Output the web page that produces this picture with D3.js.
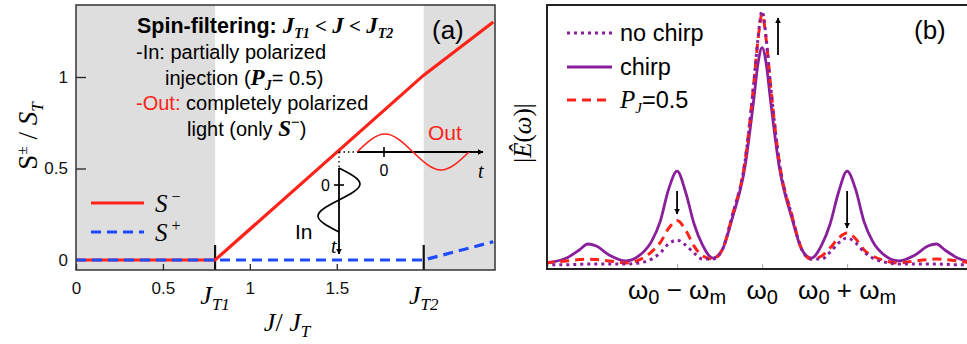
<!DOCTYPE html>
<html>
<head>
<meta charset="utf-8">
<script src="https://cdn.jsdelivr.net/npm/d3@7"></script>
<style>
  body { margin: 0; background: #fff; }
  svg { display: block; }
  .sans { font-family: "Liberation Sans", Arial, sans-serif; }
  .serif { font-family: "Liberation Serif", "Times New Roman", serif; }
</style>
</head>
<body>
<svg id="chart" width="967" height="344"></svg>
<script>
// ---- panel (a) data ----
const jVals = [0, 0.8, 2.0, 2.4]
const sMinus = [0, 0, 1.01, 1.3]
const sPlus = [0, 0, 0, 0.1]
const xTicksA = [0, 0.5, 1, 1.5]
const yTicksA = [0, 0.5, 1]
const jT1 = 0.8
const jT2 = 2.0

// inset waves (one period)
const wavePhase = [0, 0.25, 0.5, 0.75, 1]
const waveOut = [0, 1, 0, -1, 0]
const waveIn = [0, 1, 0, -1, 0]

// ---- panel (b) data: offset from w0 in units of wm ----
const omega = [-2.55, -2.3, -2.15, -2.05, -1.95, -1.8, -1.6, -1.45, -1.3, -1.2, -1.1, -1.0, -0.9, -0.8, -0.7, -0.58, -0.47, -0.35, -0.2, -0.1, -0.05, 0,
  0.05, 0.1, 0.2, 0.35, 0.47, 0.58, 0.7, 0.8, 0.9, 1.0, 1.1, 1.2, 1.3, 1.45, 1.6, 1.8, 1.95, 2.05, 2.15, 2.3, 2.45]
const chirp = [0.027, 0.046, 0.077, 0.10, 0.092, 0.058, 0.035, 0.054, 0.11, 0.185, 0.31, 0.38, 0.30, 0.177, 0.096, 0.046, 0.077, 0.20, 0.40, 0.65, 0.79, 0.855,
  0.79, 0.65, 0.40, 0.20, 0.077, 0.046, 0.096, 0.177, 0.30, 0.38, 0.31, 0.185, 0.11, 0.054, 0.035, 0.058, 0.092, 0.10, 0.077, 0.046, 0.03]
const noChirp = [0.02, 0.02, 0.022, 0.023, 0.023, 0.023, 0.023, 0.027, 0.042, 0.065, 0.10, 0.115, 0.096, 0.065, 0.042, 0.042, 0.077, 0.21, 0.42, 0.71, 0.885, 0.996,
  0.885, 0.71, 0.42, 0.21, 0.077, 0.042, 0.042, 0.069, 0.104, 0.123, 0.104, 0.069, 0.046, 0.03, 0.023, 0.023, 0.023, 0.023, 0.022, 0.02, 0.02]
const pJ05 = [0.027, 0.035, 0.04, 0.042, 0.04, 0.035, 0.027, 0.038, 0.07, 0.104, 0.16, 0.19, 0.154, 0.092, 0.054, 0.042, 0.077, 0.21, 0.42, 0.71, 0.88, 0.985,
  0.88, 0.71, 0.42, 0.21, 0.077, 0.042, 0.054, 0.085, 0.123, 0.142, 0.12, 0.077, 0.054, 0.035, 0.027, 0.035, 0.04, 0.042, 0.04, 0.035, 0.027]
const xTicksB = [-1, 0, 1]

const red = '#ff2218'
const blue = '#1f4bff'
const purple = '#8a1f9c'

const svg = d3.select('#chart')

svg.append('defs').append('marker')
  .attr('id', 'arrow')
  .attr('viewBox', '0 0 10 10')
  .attr('refX', 9).attr('refY', 5)
  .attr('markerWidth', 6).attr('markerHeight', 6)
  .attr('markerUnits', 'userSpaceOnUse')
  .attr('orient', 'auto')
  .append('path').attr('d', 'M0,0 L10,5 L0,10 Z').attr('fill', '#000')

// helper: text with sub/superscript parts [{t, it, cls, size, dy, fill, w}]
function richText(g, x, y, parts, opts = {}) {
  const t = g.append('text').attr('x', x).attr('y', y)
    .attr('font-size', opts.size || 18)
    .attr('fill', opts.fill || '#000')
    .attr('text-anchor', opts.anchor || 'start')
    .attr('class', opts.cls || 'sans')
  if (opts.weight) t.attr('font-weight', opts.weight)
  parts.forEach(p => {
    const s = t.append('tspan').text(p.t)
    if (p.cls) s.attr('class', p.cls)
    if (p.it) s.attr('font-style', 'italic')
    if (p.fill) s.attr('fill', p.fill)
    if (p.size) s.attr('font-size', p.size)
    if (p.dy) s.attr('dy', p.dy)
    if (p.w) s.attr('font-weight', p.w)
  })
  return t
}

// ================= panel (a) =================
const xA = d3.scaleLinear().domain([0, 2.41]).range([76, 495])
const yA = d3.scaleLinear().domain([0, 1]).range([260, 77])
const topA = 5, botA = 270

const ga = svg.append('g')

// shaded regimes
ga.append('rect').attr('x', xA(0)).attr('y', topA)
  .attr('width', xA(jT1) - xA(0)).attr('height', botA - topA).attr('fill', '#dedede')
ga.append('rect').attr('x', xA(jT2)).attr('y', topA)
  .attr('width', xA(2.41) - xA(jT2)).attr('height', botA - topA).attr('fill', '#dedede')

// axes
const axA = ga.append('g').attr('transform', `translate(0,${botA})`)
  .call(d3.axisBottom(xA).tickValues(xTicksA).tickFormat(d3.format('')).tickSizeInner(-6).tickSizeOuter(0).tickPadding(12))
axA.select('.domain').remove()
axA.selectAll('text').attr('font-size', 17).attr('class', 'sans').attr('fill', '#111')
axA.selectAll('line').attr('stroke', '#222').attr('stroke-width', 1.3)

const ayA = ga.append('g').attr('transform', `translate(${xA(0)},0)`)
  .call(d3.axisLeft(yA).tickValues(yTicksA).tickFormat(d3.format('')).tickSizeInner(-10).tickSizeOuter(0).tickPadding(8))
ayA.select('.domain').remove()
ayA.selectAll('text').attr('font-size', 17).attr('class', 'sans').attr('fill', '#111')
ayA.selectAll('line').attr('stroke', '#222').attr('stroke-width', 1.3)

// threshold markers
;[jT1, jT2].forEach(j => {
  ga.append('line').attr('x1', xA(j)).attr('x2', xA(j))
    .attr('y1', botA - 25).attr('y2', botA)
    .attr('stroke', '#111').attr('stroke-width', 2.2)
})
;[[jT1, 'T1'], [jT2, 'T2']].forEach(([j, s]) => {
  richText(ga, xA(j), 304, [{ t: 'J', it: true }, { t: s, it: true, size: 17, dy: 6 }],
    { size: 26, cls: 'serif', anchor: 'middle' })
})

// curves
const lineA = d3.line().x(d => xA(d[0])).y(d => yA(d[1]))
ga.append('path').datum(jVals.map((j, i) => [j, sMinus[i]]))
  .attr('d', lineA).attr('fill', 'none').attr('stroke', red).attr('stroke-width', 3.2)
ga.append('path').datum(jVals.map((j, i) => [j, sPlus[i]]))
  .attr('d', lineA).attr('fill', 'none').attr('stroke', blue).attr('stroke-width', 3.2)
  .attr('stroke-dasharray', '10,6')

// frame
ga.append('rect').attr('x', xA(0)).attr('y', topA)
  .attr('width', 495 - xA(0)).attr('height', botA - topA)
  .attr('fill', 'none').attr('stroke', '#333').attr('stroke-width', 1.5)

// legend
ga.append('line').attr('x1', 91).attr('x2', 144).attr('y1', 203).attr('y2', 203)
  .attr('stroke', red).attr('stroke-width', 3.2)
ga.append('line').attr('x1', 91).attr('x2', 144).attr('y1', 232).attr('y2', 232)
  .attr('stroke', blue).attr('stroke-width', 3.2).attr('stroke-dasharray', '10,6')
richText(ga, 155, 212, [{ t: 'S', it: true }, { t: ' −', size: 16, dy: -10 }], { size: 25, cls: 'serif' })
richText(ga, 155, 241, [{ t: 'S', it: true }, { t: ' +', size: 16, dy: -10 }], { size: 25, cls: 'serif' })

// description
richText(ga, 137, 33, [{ t: 'Spin-filtering: ' },
  { t: 'J', cls: 'serif', it: true, size: 23 }, { t: 'T1', cls: 'serif', it: true, size: 14, dy: 5 },
  { t: ' < ', cls: 'serif', size: 21, dy: -5 }, { t: 'J', cls: 'serif', it: true, size: 23 },
  { t: ' < ', cls: 'serif', size: 21 }, { t: 'J', cls: 'serif', it: true, size: 23 },
  { t: 'T2', cls: 'serif', it: true, size: 14, dy: 5 }], { size: 21.5, weight: 'bold' })
richText(ga, 136, 59, [{ t: '-In: partially polarized' }], { size: 20 })
richText(ga, 165, 85, [{ t: 'injection (' }, { t: 'P', cls: 'serif', it: true, w: 'bold', size: 23 },
  { t: 'J', cls: 'serif', it: true, w: 'bold', size: 14, dy: 5 }, { t: '= 0.5)', dy: -5 }], { size: 20 })
richText(ga, 136, 110, [{ t: '-Out:', fill: red }, { t: ' completely polarized' }], { size: 20 })
richText(ga, 187, 136, [{ t: 'light (only ' }, { t: 'S', cls: 'serif', it: true, w: 'bold', size: 23 },
  { t: '−', size: 15, dy: -9 }, { t: ')', dy: 9 }], { size: 20 })
richText(ga, 432, 39, [{ t: '(a)' }], { size: 26 })

// inset: in/out waveforms
const ox = 339, oy = 152
const gi = ga.append('g')
gi.append('line').attr('x1', ox).attr('x2', 357).attr('y1', oy).attr('y2', oy)
  .attr('stroke', '#000').attr('stroke-width', 1.3).attr('stroke-dasharray', '1.5,3')
gi.append('line').attr('x1', ox).attr('x2', ox).attr('y1', oy).attr('y2', 168)
  .attr('stroke', '#000').attr('stroke-width', 1.3).attr('stroke-dasharray', '1.5,3')
gi.append('line').attr('x1', 357).attr('x2', 483).attr('y1', oy).attr('y2', oy)
  .attr('stroke', '#000').attr('stroke-width', 1.8).attr('marker-end', 'url(#arrow)')
gi.append('line').attr('x1', ox).attr('x2', ox).attr('y1', 168).attr('y2', 254)
  .attr('stroke', '#000').attr('stroke-width', 1.8).attr('marker-end', 'url(#arrow)')
gi.append('line').attr('x1', 384).attr('x2', 384).attr('y1', oy - 5).attr('y2', oy + 5)
  .attr('stroke', '#000').attr('stroke-width', 1.6)
gi.append('line').attr('x1', ox - 5).attr('x2', ox + 5).attr('y1', 185).attr('y2', 185)
  .attr('stroke', '#000').attr('stroke-width', 1.6)

const outX = d3.scaleLinear().domain([0, 1]).range([357, 469])
const outY = d3.scaleLinear().domain([-1, 1]).range([oy + 18, oy - 18])
gi.append('path').datum(wavePhase.map((p, i) => [p, waveOut[i]]))
  .attr('d', d3.line().x(d => outX(d[0])).y(d => outY(d[1])).curve(d3.curveNatural))
  .attr('fill', 'none').attr('stroke', red).attr('stroke-width', 1.6)
const inY = d3.scaleLinear().domain([0, 1]).range([168, 232])
const inX = d3.scaleLinear().domain([-1, 1]).range([ox - 21, ox + 21])
gi.append('path').datum(wavePhase.map((p, i) => [p, waveIn[i]]))
  .attr('d', d3.line().x(d => inX(d[1])).y(d => inY(d[0])).curve(d3.curveNatural))
  .attr('fill', 'none').attr('stroke', '#000').attr('stroke-width', 1.6)

richText(gi, 384, 176, [{ t: '0' }], { size: 16, anchor: 'middle' })
richText(gi, 330, 191, [{ t: '0' }], { size: 16, anchor: 'end' })
richText(gi, 428, 140, [{ t: 'Out' }], { size: 21, fill: red })
richText(gi, 295, 239, [{ t: 'In' }], { size: 21 })
richText(gi, 478, 178, [{ t: 't', it: true }], { size: 20, cls: 'serif' })
richText(gi, 331, 253, [{ t: 't', it: true }], { size: 20, cls: 'serif' })

// axis titles
richText(ga, 287, 331, [{ t: 'J', it: true }, { t: '/ ' }, { t: 'J', it: true }, { t: 'T', it: true, size: 17, dy: 6 }],
  { size: 26, cls: 'serif', anchor: 'middle' })
richText(ga, 0, 0, [{ t: 'S' }, { t: '±', size: 15, dy: -10 }, { t: ' / ', dy: 10 }, { t: 'S', it: true }, { t: 'T', it: true, size: 17, dy: 6 }],
  { size: 27, cls: 'serif', anchor: 'middle' })
  .attr('transform', 'translate(37,136) rotate(-90)')

// ================= panel (b) =================
const leftB = 547, topB = 5, botB = 269
const xB = d3.scaleLinear().domain([-2.53, 2.41]).range([leftB, 967])
const yB = d3.scaleLinear().domain([0, 1]).range([270, 10])

const gb = svg.append('g')
gb.append('clipPath').attr('id', 'clipB').append('rect')
  .attr('x', leftB).attr('y', 0).attr('width', 967 - leftB).attr('height', botB)

const lineB = d3.line().x(d => xB(d[0])).y(d => yB(d[1])).curve(d3.curveMonotoneX)
const series = (vals) => omega.map((u, i) => [u, vals[i]])
const gc = gb.append('g').attr('clip-path', 'url(#clipB)')
gc.append('path').datum(series(chirp)).attr('d', lineB)
  .attr('fill', 'none').attr('stroke', purple).attr('stroke-width', 2.8)
gc.append('path').datum(series(pJ05)).attr('d', lineB)
  .attr('fill', 'none').attr('stroke', red).attr('stroke-width', 3).attr('stroke-dasharray', '9,6')
gc.append('path').datum(series(noChirp)).attr('d', lineB)
  .attr('fill', 'none').attr('stroke', purple).attr('stroke-width', 3).attr('stroke-dasharray', '3,4')

// bottom ticks
const axB = gb.append('g').attr('transform', `translate(0,${botB})`)
  .call(d3.axisBottom(xB).tickValues(xTicksB).tickFormat('').tickSizeInner(-5).tickSizeOuter(0))
axB.select('.domain').remove()
axB.selectAll('line').attr('stroke', '#aaa').attr('stroke-width', 1)

// frame
gb.append('path').attr('d', `M967,${topB} H${leftB} V${botB} H967`)
  .attr('fill', 'none').attr('stroke', '#222').attr('stroke-width', 2)

// tick labels
const om = () => [{ t: 'ω' }, { t: '0', size: 20, dy: 5 }]
const tickParts = [
  [...om(), { t: ' − ω', dy: -5 }, { t: 'm', size: 20, dy: 5 }],
  [...om()],
  [...om(), { t: ' + ω', dy: -5 }, { t: 'm', size: 20, dy: 5 }]
]
xTicksB.forEach((u, i) => {
  richText(gb, xB(u), 299, tickParts[i], { size: 26, anchor: 'middle', cls: 'sans' })
})

// arrows
const arrowLine = (x, y1, y2) => gb.append('line').attr('x1', x).attr('x2', x).attr('y1', y1).attr('y2', y2)
  .attr('stroke', '#000').attr('stroke-width', 1.8).attr('marker-end', 'url(#arrow)')
arrowLine(778, 55, 18)
arrowLine(xB(-1), 191, 214)
arrowLine(xB(1), 191, 228)

// legend
gb.append('line').attr('x1', 567).attr('x2', 612).attr('y1', 33).attr('y2', 33)
  .attr('stroke', purple).attr('stroke-width', 3).attr('stroke-dasharray', '3,4')
gb.append('line').attr('x1', 567).attr('x2', 612).attr('y1', 67).attr('y2', 67)
  .attr('stroke', purple).attr('stroke-width', 2.8)
gb.append('line').attr('x1', 567).attr('x2', 612).attr('y1', 100).attr('y2', 100)
  .attr('stroke', red).attr('stroke-width', 3).attr('stroke-dasharray', '9,6')
richText(gb, 620, 41, [{ t: 'no chirp' }], { size: 23.5 })
richText(gb, 620, 75, [{ t: 'chirp' }], { size: 23.5 })
richText(gb, 620, 108, [{ t: 'P', cls: 'serif', it: true, size: 25 }, { t: 'J', cls: 'serif', it: true, size: 15, dy: 5 },
  { t: '=0.5', dy: -5 }], { size: 23.5 })
richText(gb, 914, 39, [{ t: '(b)' }], { size: 26 })

richText(gb, 0, 0, [{ t: '|' }, { t: 'Ê', it: true }, { t: '(' }, { t: 'ω', it: true }, { t: ')|' }],
  { size: 25, cls: 'serif', anchor: 'middle' })
  .attr('transform', 'translate(531,133) rotate(-90)')
</script>
</body>
</html>
